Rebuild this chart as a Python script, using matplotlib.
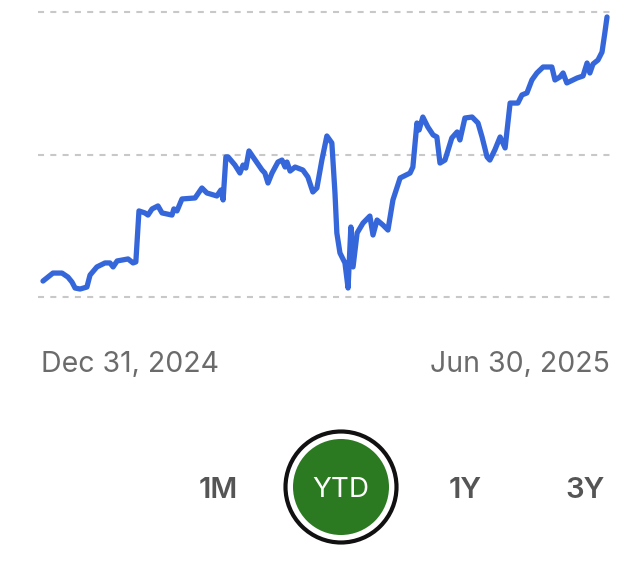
import matplotlib.pyplot as plt
from matplotlib.patches import Circle

# days since Dec 31, 2024 and index level
days = [0.0, 3.2, 6.1, 8.0, 9.3, 10.3, 11.9, 14.1, 15.1, 17.3, 19.9, 21.5, 22.5, 23.8,
        27.3, 28.9, 29.8, 30.8, 32.7, 33.7, 35.0, 36.9, 38.2, 41.4, 42.0, 43.0, 44.6,
        48.8, 51.0, 52.6, 55.8, 57.1, 57.8, 58.7, 59.4, 61.6, 63.2, 64.2, 65.1, 66.1,
        67.4, 70.3, 71.2, 72.2, 73.5, 75.4, 76.7, 77.7, 78.3, 79.3, 80.9, 83.4, 85.0,
        86.6, 87.9, 89.5, 91.1, 92.7, 93.7, 94.3, 95.3, 96.9, 97.9, 98.8, 99.5, 100.8,
        102.7, 104.9, 105.9, 107.2, 109.1, 110.7, 112.3, 114.6, 117.8, 118.7, 120.0,
        120.7, 121.9, 123.5, 125.2, 126.4, 127.4, 129.0, 131.2, 132.9, 133.8, 135.4,
        137.7, 139.6, 140.9, 142.5, 143.4, 145.0, 146.7, 148.3, 149.9, 152.4, 153.7,
        155.3, 156.9, 158.5, 160.5, 163.3, 164.3, 165.9, 166.9, 168.1, 171.4, 173.3,
        174.6, 175.5, 176.5, 178.1, 179.4, 180.3, 181.0]
values = [101.12, 101.68, 101.68, 101.40, 101.05, 100.63, 100.56, 100.70, 101.54, 102.11,
          102.39, 102.39, 102.11, 102.53, 102.67, 102.39, 102.46, 106.04, 105.90, 105.75,
          106.18, 106.39, 105.90, 105.75, 106.18, 106.04, 106.88, 106.95, 107.65, 107.30,
          107.09, 107.51, 106.81, 109.83, 109.83, 109.26, 108.70, 109.26, 109.05, 110.25,
          109.83, 108.91, 108.70, 108.00, 108.70, 109.47, 109.61, 109.12, 109.47, 108.84,
          109.12, 108.91, 108.42, 107.37, 107.65, 109.61, 111.30, 110.81, 107.30, 104.49,
          103.09, 102.39, 100.63, 104.91, 102.11, 104.49, 105.19, 105.68, 104.35, 105.40,
          105.05, 104.70, 106.81, 108.35, 108.70, 109.12, 112.21, 111.72, 112.63, 111.93,
          111.37, 111.23, 109.40, 109.61, 111.16, 111.58, 111.02, 112.56, 112.63, 112.21,
          111.23, 109.83, 109.61, 110.32, 111.23, 110.46, 113.61, 113.61, 114.18, 114.32,
          115.23, 115.72, 116.14, 116.14, 115.23, 115.44, 115.72, 115.02, 115.37, 115.51,
          116.42, 115.72, 116.35, 116.63, 117.19, 118.53, 119.65]
grid_levels = [100, 110, 120]
start_label = "Dec 31, 2024"
end_label = "Jun 30, 2025"
ranges = ["1M", "YTD", "1Y", "3Y"]
selected = "YTD"

W, H = 640, 582
fig = plt.figure(figsize=(W / 100, H / 100), dpi=100)
fig.patch.set_facecolor("white")

# line chart area (pixel box 38..612 x 12..297)
ax = fig.add_axes([38 / W, 1 - 297 / H, 574 / W, 285 / H])
ax.set_xlim(-1.6, 182.6)
ax.set_ylim(100, 120)
for lvl in grid_levels:
    ax.axhline(lvl, color="#c8c8c8", lw=1.5, ls=(0, (2.9, 3.0)), zorder=1, clip_on=False)
ax.plot(days, values, color="#3567DB", lw=3.8, solid_joinstyle="round",
        solid_capstyle="round", zorder=3, clip_on=False)
ax.axis("off")

# overlay in pixel coordinates for labels and range buttons
ov = fig.add_axes([0, 0, 1, 1])
ov.set_xlim(0, W)
ov.set_ylim(H, 0)
ov.axis("off")

ov.text(41, 372, start_label, fontsize=20.5, color="#6b6b6b", family="Inter",
        ha="left", va="baseline")
ov.text(610, 372, end_label, fontsize=20.5, color="#6b6b6b", family="Inter",
        ha="right", va="baseline")

btn_x = [218, 341, 465, 585]
for label, bx in zip(ranges, btn_x):
    if label == selected:
        ov.add_patch(Circle((bx, 487), 55.5, facecolor="white", edgecolor="#111111", lw=3.0))
        ov.add_patch(Circle((bx, 487), 48, facecolor="#2B7A22", edgecolor="none"))
        ov.text(bx, 487, label, fontsize=20, color="white", family="Inter",
                ha="center", va="center_baseline")
    else:
        ov.text(bx, 487, label, fontsize=21, color="#555555", family="Inter",
                weight="semibold", ha="center", va="center_baseline")

fig.savefig("out.png", dpi=100, facecolor="white")
